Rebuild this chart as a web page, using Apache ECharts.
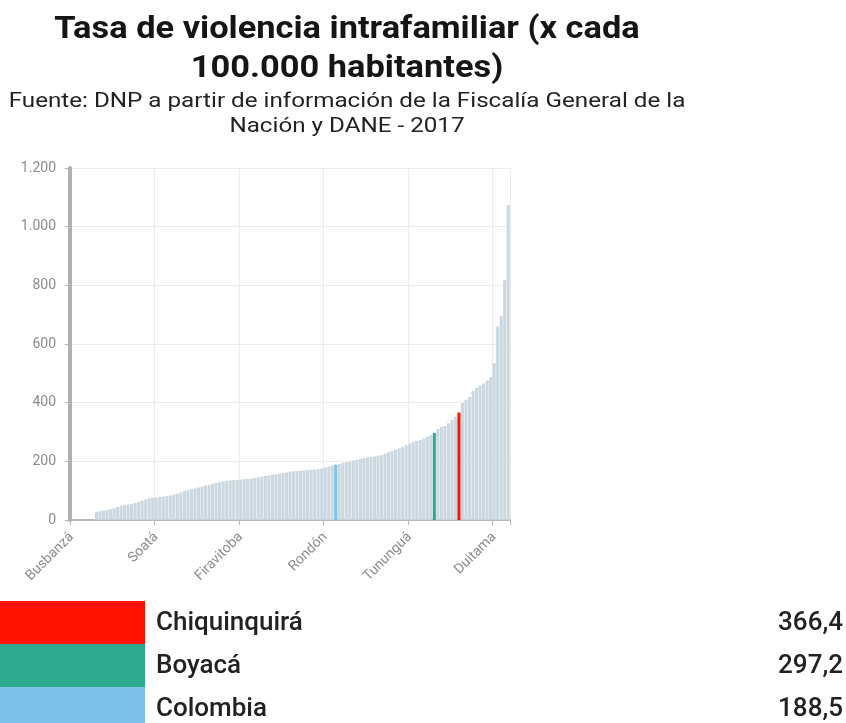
<!DOCTYPE html>
<html>
<head>
<meta charset="utf-8">
<script src="https://cdn.jsdelivr.net/npm/echarts@6/dist/echarts.min.js"></script>
<style>
  html, body { margin: 0; padding: 0; background: #fff; }
  #chart { width: 846px; height: 723px; }
</style>
</head>
<body>
<div id="chart"></div>
<script>
  // tick values of the y axis
  var yTicks = [0, 200, 400, 600, 800, 1000, 1200];

  // municipalities whose name is visible on the x axis, and their position
  var shownNames = ['Busbanzá', 'Soatá', 'Firavitoba', 'Rondón', 'Tununguá', 'Duitama'];
  var shownAt = [0, 24, 48, 72, 96, 120];

  // highlighted bars (also the table under the chart)
  var highlightNames = ['Chiquinquirá', 'Boyacá', 'Colombia'];
  var highlightAt = [110, 103, 75];
  var highlightValues = [366.4, 297.2, 188.5];
  var highlightColors = ['#ff1100', '#2eaa90', '#7cc2e8'];

  // rate per 100.000 inhabitants, sorted
  var rates = [
    0, 0, 0, 0, 0, 0, 0,
    28, 30, 32, 34, 37, 40, 44, 48,
    51, 53, 55, 58, 62, 66, 70, 74,
    76, 77, 79, 80, 82, 84, 87, 90, 94, 99,
    102, 105, 108, 111, 114, 117, 120, 123, 127, 130,
    132, 134, 135, 136, 137, 138, 139, 140, 141,
    143, 146, 148, 150, 152, 154, 156, 158, 160, 162, 165,
    166, 167, 168, 169, 170, 171, 172, 173,
    176, 179, 182, 185,
    188.5,
    191, 194, 197, 200, 203, 205, 208, 211,
    213, 215, 217, 219, 221,
    226, 231, 236, 240, 244, 249, 255,
    261, 266, 270, 273, 278, 284, 290,
    297.2,
    310, 317, 321, 330, 341, 352,
    366.4,
    399, 410, 420, 440, 450, 458, 465, 475, 488,
    535, 660, 695, 818, 1074
  ];

  var categories = rates.map(function () { return ''; });
  shownNames.forEach(function (n, i) { categories[shownAt[i]] = n; });
  highlightNames.forEach(function (n, i) { categories[highlightAt[i]] = n; });

  var barData = rates.map(function (v, i) {
    var h = highlightAt.indexOf(i);
    if (h >= 0) {
      return { value: v, itemStyle: { color: highlightColors[h] } };
    }
    return v;
  });

  function fmtThousands(v) {
    return String(v).replace(/\B(?=(\d{3})+(?!\d))/g, '.');
  }

  var graphics = [
    {
      type: 'text', x: 347, y: 11, scaleX: 1.11,
      style: {
        text: 'Tasa de violencia intrafamiliar (x cada\n100.000 habitantes)',
        align: 'center', verticalAlign: 'top',
        fontFamily: 'Roboto', fontSize: 31, fontWeight: 'bold',
        lineHeight: 39, fill: '#151515'
      }
    },
    {
      type: 'text', x: 347, y: 89, scaleX: 1.21,
      style: {
        text: 'Fuente: DNP a partir de información de la Fiscalía General de la\nNación y DANE - 2017',
        align: 'center', verticalAlign: 'top',
        fontFamily: 'Roboto', fontSize: 20,
        lineHeight: 25, fill: '#222'
      }
    }
  ];

  // table under the chart
  highlightNames.forEach(function (n, i) {
    var top = 601 + i * 43;
    graphics.push({
      type: 'rect',
      shape: { x: 0, y: top, width: 145, height: 43 },
      style: { fill: highlightColors[i] }
    });
    graphics.push({
      type: 'text', x: 156, y: top + 22,
      style: {
        text: n, align: 'left', verticalAlign: 'middle',
        fontFamily: 'Roboto', fontSize: 26, fontWeight: 500, fill: '#222'
      }
    });
    graphics.push({
      type: 'text', x: 843, y: top + 22,
      style: {
        text: highlightValues[i].toFixed(1).replace('.', ','),
        align: 'right', verticalAlign: 'middle',
        fontFamily: 'Roboto', fontSize: 26, fontWeight: 500, fill: '#222'
      }
    });
  });

  var chart = echarts.init(document.getElementById('chart'));
  chart.setOption({
    animation: false,
    backgroundColor: '#fff',
    grid: {
      left: 70,
      right: 336,
      top: 168,
      bottom: 203
    },
    xAxis: {
      type: 'category',
      data: categories,
      axisLine: {
        lineStyle: { color: '#b8b8b8', width: 2 }
      },
      axisTick: {
        show: true,
        interval: 23,
        length: 5,
        lineStyle: { color: '#b8b8b8' }
      },
      splitLine: {
        show: true,
        interval: 23,
        lineStyle: { color: '#ececec' }
      },
      axisLabel: {
        interval: 23,
        rotate: 45,
        margin: 15,
        color: '#8c8c8c',
        fontFamily: 'Roboto',
        fontSize: 14
      }
    },
    yAxis: {
      type: 'value',
      min: yTicks[0],
      max: yTicks[yTicks.length - 1],
      interval: yTicks[1] - yTicks[0],
      axisLine: {
        show: true,
        lineStyle: { color: '#b0b0b0', width: 4 }
      },
      axisTick: {
        show: true,
        length: 5,
        lineStyle: { color: '#b0b0b0' }
      },
      splitLine: {
        lineStyle: { color: '#ececec' }
      },
      axisLabel: {
        color: '#8c8c8c',
        fontFamily: 'Roboto',
        fontSize: 14,
        margin: 14,
        formatter: fmtThousands
      }
    },
    series: [
      {
        name: 'Tasa',
        type: 'bar',
        data: barData,
        barCategoryGap: '12%',
        itemStyle: { color: '#ccd8e0' }
      }
    ],
    graphic: graphics
  });
</script>
</body>
</html>
